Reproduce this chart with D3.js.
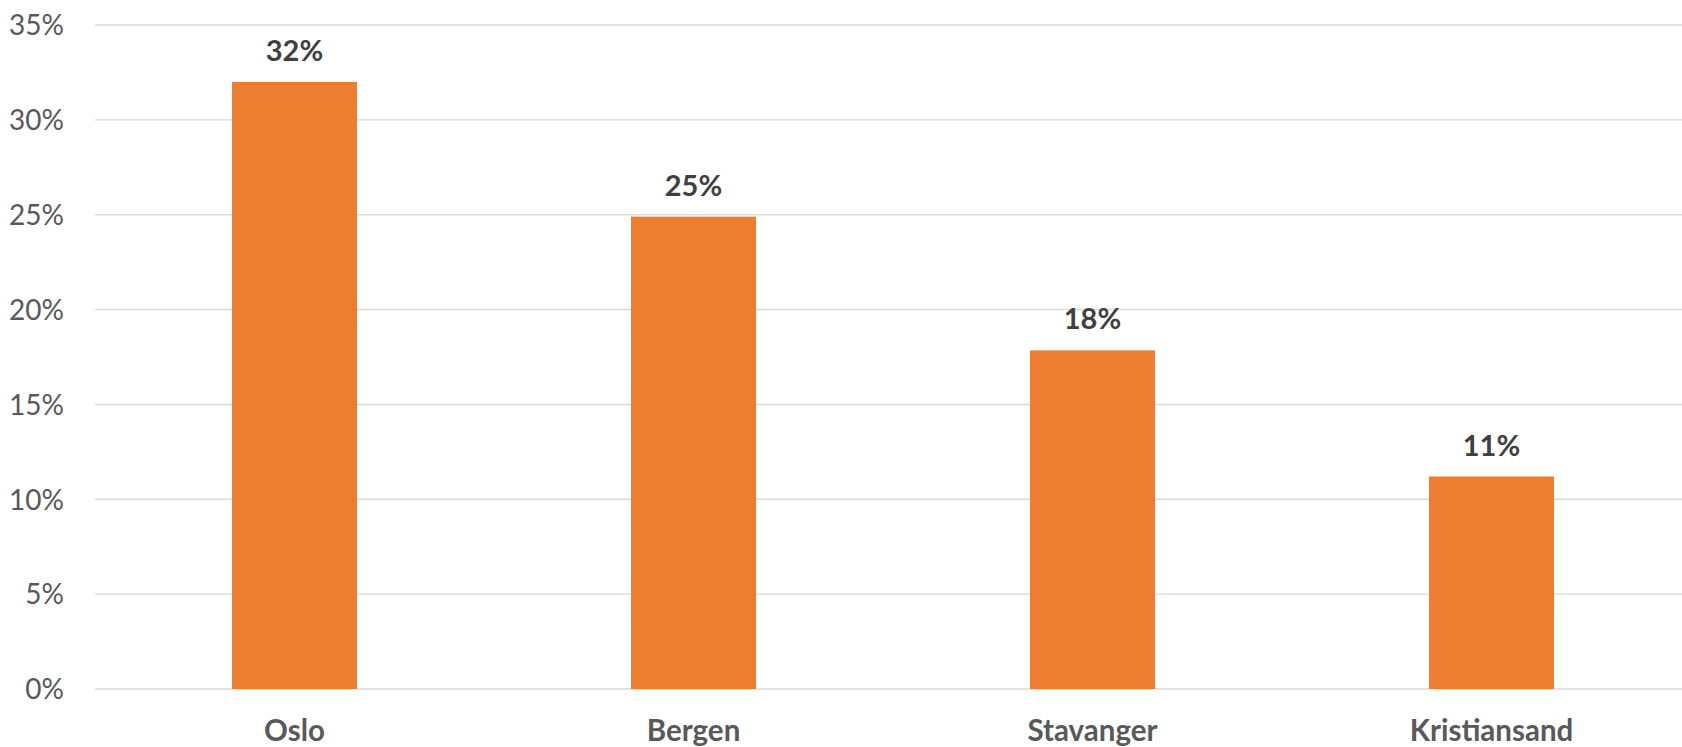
<!DOCTYPE html>
<html>
<head>
<meta charset="utf-8">
<script src="https://cdn.jsdelivr.net/npm/d3@7"></script>
<style>
  html, body { margin: 0; padding: 0; background: #fff; overflow: hidden; }
  svg { display: block; font-family: Lato, "Open Sans", sans-serif; }
</style>
</head>
<body>
<svg id="chart" width="1682" height="747"></svg>
<script>
const categories = ["Oslo", "Bergen", "Stavanger", "Kristiansand"];
const values = [32.0, 24.9, 17.85, 11.2];
const valueLabels = ["32%", "25%", "18%", "11%"];
const yTicks = [0, 5, 10, 15, 20, 25, 30, 35];

const svg = d3.select("#chart");
const plotLeft = 95, plotRight = 1691, plotTop = 25, plotBottom = 689;

const x = d3.scaleBand().domain(categories).range([plotLeft, plotRight])
  .paddingInner(0.6867).paddingOuter(0.6867 / 2);
const y = d3.scaleLinear().domain([0, 35]).range([plotBottom, plotTop]);

// gridlines
svg.append("g").selectAll("line").data(yTicks).join("line")
  .attr("x1", plotLeft).attr("x2", 1682)
  .attr("y1", d => y(d)).attr("y2", d => y(d))
  .attr("stroke", "#d9d9d9").attr("stroke-width", 1.4);

// y axis labels
const yAxis = d3.axisLeft(y).tickValues(yTicks).tickFormat(d => d + "%").tickSize(0).tickPadding(0);
const ga = svg.append("g").attr("transform", `translate(64,0)`).call(yAxis);
ga.select(".domain").remove();
ga.selectAll("text").attr("font-size", 28).attr("fill", "#595959")
  .attr("font-family", "Lato, sans-serif").attr("dy", "0.35em");

// bars
svg.append("g").selectAll("rect").data(categories).join("rect")
  .attr("x", d => x(d)).attr("width", x.bandwidth())
  .attr("y", (d, i) => y(values[i])).attr("height", (d, i) => y(0) - y(values[i]))
  .attr("fill", "#ED7D31");

// data labels
svg.append("g").selectAll("text").data(categories).join("text")
  .attr("x", d => x(d) + x.bandwidth() / 2)
  .attr("y", (d, i) => y(values[i]) - 21)
  .attr("text-anchor", "middle")
  .attr("font-size", 29).attr("font-weight", "bold").attr("fill", "#404040")
  .text((d, i) => valueLabels[i]);

// category labels
const xAxis = d3.axisBottom(x).tickSize(0).tickPadding(0);
const gx = svg.append("g").attr("transform", `translate(0,${plotBottom})`).call(xAxis);
gx.select(".domain").remove();
gx.selectAll("text").attr("font-size", 29.5).attr("font-weight", "bold").attr("fill", "#595959")
  .attr("font-family", "Lato, sans-serif").attr("dy", 0).attr("y", 52);
</script>
</body>
</html>
